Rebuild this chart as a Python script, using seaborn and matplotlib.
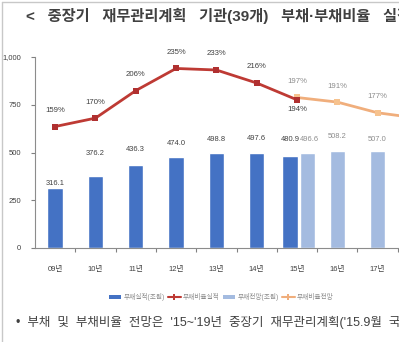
import numpy as np
import pandas as pd
import matplotlib
matplotlib.use("Agg")
import matplotlib.pyplot as plt
import seaborn as sns
from matplotlib.patches import Patch
from matplotlib.lines import Line2D

# ---------------- data ----------------
years = ["09년", "10년", "11년", "12년", "13년", "14년", "15년", "16년", "17년"]
debt_actual = [316.1, 376.2, 436.3, 474.0, 498.8, 497.6, 480.9]      # 09~15
debt_plan = [496.6, 508.2, 507.0]                                     # 15~17
ratio_actual = [159, 170, 206, 235, 233, 216, 194]                    # 09~15 (%)
ratio_plan = [197, 191, 177, 170]                                     # 15~18 (%), 18 runs off the edge
yticks = [0, 250, 500, 750, 1000]
ytick_labels = ["0", "250", "500", "750", "1,000"]
title = "<   중장기   재무관리계획   기관(39개)   부채·부채비율   실적   및   전망   >"
note = "•  부채  및  부채비율  전망은  '15~'19년  중장기  재무관리계획('15.9월  국회  제출)"
legend_labels = ["부채실적(조원)", "부채비율실적", "부채전망(조원)", "부채비율전망"]

# ---------------- style ----------------
sns.set_theme(style="white")
plt.rcParams["font.family"] = ["Liberation Sans", "Noto Sans CJK KR", "DejaVu Sans"]

C_DARK = "#4472C4"
C_LIGHT = "#A4BBE0"
C_RED = "#BE3A34"
C_ORANGE = "#F0AE7C"
C_TXT = "#404040"
C_TXT_L = "#8C8C8C"

W, H = 399, 342
fig = plt.figure(figsize=(W / 100, H / 100), dpi=100)
ax = fig.add_axes([35 / W, 94 / H, 403 / W, 191 / H])

n_a = len(debt_actual)
x_act = np.arange(n_a, dtype=float)
x_plan = np.arange(n_a - 1, n_a - 1 + len(debt_plan), dtype=float)
bar_w = 0.38
# the overlapping year (15년) shows both bars side by side
x_act_bar = x_act.copy()
x_act_bar[-1] -= 0.17
x_plan_bar = x_plan.copy()
x_plan_bar[0] += 0.26

ax.bar(x_act_bar, debt_actual, width=bar_w, color=C_DARK, zorder=2)
ax.bar(x_plan_bar, debt_plan, width=bar_w, color=C_LIGHT, zorder=2)

ax.set_xlim(-0.5, 9.5)
ax.set_ylim(0, 1000)
ax.set_yticks(yticks)
ax.set_yticklabels(ytick_labels)
ax.set_xticks(np.arange(len(years)))
ax.set_xticklabels(years)
ax.set_xticks(np.arange(len(years) + 1) + 0.5, minor=True)
ax.tick_params(axis="x", which="major", length=0, pad=13, labelsize=5.5, labelcolor=C_TXT)
ax.tick_params(axis="x", which="minor", length=3, width=0.8, color="#808080", direction="out", bottom=True)
ax.tick_params(axis="y", length=3, width=0.8, color="#808080", direction="out", left=True,
               pad=7, labelsize=5.5, labelcolor=C_TXT)
for s in ["top", "right"]:
    ax.spines[s].set_visible(False)
for s in ["left", "bottom"]:
    ax.spines[s].set_color("#8C8C8C")
    ax.spines[s].set_linewidth(0.8)
ax.grid(False)

# bar value labels (offsets in px above bar top, as placed in the original)
off_act = [4, 23, 15, 13.5, 13.7, 14, 17]
off_plan = [14, 14, 12]
for x, v, o in zip(x_act_bar, debt_actual, off_act):
    ax.annotate(f"{v:.1f}", (x, v), xytext=(0, o * 0.72), textcoords="offset points",
                ha="center", va="center", fontsize=5.4, color=C_TXT)
for i, (x, v, o) in enumerate(zip(x_plan_bar, debt_plan, off_plan)):
    ax.annotate(f"{v:.1f}", (x, v), xytext=(1.5 if i == 0 else 0, o * 0.72),
                textcoords="offset points", ha="center", va="center", fontsize=5.4, color=C_TXT_L)

# ratio lines on secondary axis
ax2 = ax.twinx()
ax2.set_ylim(0, 250)
ax2.set_axis_off()
x_rp = np.arange(n_a - 1, n_a - 1 + len(ratio_plan), dtype=float)
sns.lineplot(x=x_rp, y=ratio_plan, ax=ax2, color=C_ORANGE, lw=2, marker="s", markersize=4,
             markeredgewidth=0, markerfacecolor="#F6C28E", zorder=3)
sns.lineplot(x=x_act, y=ratio_actual, ax=ax2, color=C_RED, lw=2, marker="s", markersize=4.5,
             markeredgewidth=0, markerfacecolor="#B03030", zorder=4)

for i, (x, v) in enumerate(zip(x_act, ratio_actual)):
    dy = -10 if i == n_a - 1 else 16
    ax2.annotate(f"{v}%", (x, v), xytext=(0, dy * 0.72), textcoords="offset points",
                 ha="center", va="center", fontsize=5.6, color=C_TXT)
for x, v in zip(x_rp, ratio_plan):
    if x < len(years):
        ax2.annotate(f"{v}%", (x, v), xytext=(0, 16 * 0.72), textcoords="offset points",
                     ha="center", va="center", fontsize=5.6, color=C_TXT_L)

# legend
handles = [
    Patch(facecolor=C_DARK, edgecolor="none"),
    Line2D([], [], color=C_RED, lw=1.5, marker="P", markersize=4, markeredgewidth=0),
    Patch(facecolor=C_LIGHT, edgecolor="none"),
    Line2D([], [], color=C_ORANGE, lw=1.5, marker="P", markersize=4, markeredgewidth=0),
]
fig.legend(handles, legend_labels, loc="center left", bbox_to_anchor=(106 / W, 1 - 297 / H),
           ncol=4, frameon=False, fontsize=4.8, handlelength=1.9, handleheight=0.6,
           columnspacing=0.5, handletextpad=0.3, labelcolor=C_TXT_L, borderaxespad=0)

# title and note
fig.text(26 / W, 1 - 16 / H, title, fontsize=11.0, fontweight="bold", color="#404040",
         ha="left", va="center")
fig.text(16 / W, 1 - 322 / H, note, fontsize=9.0, color="#404040", ha="left", va="center")

# thin frame (left and top, the rest is cut off)
fig.add_artist(Line2D([2 / W, 2 / W], [0, 1 - 1.5 / H], transform=fig.transFigure,
                      color="#C8C8C8", lw=1))
fig.add_artist(Line2D([2 / W, 1], [1 - 1.5 / H, 1 - 1.5 / H], transform=fig.transFigure,
                      color="#C8C8C8", lw=1))

fig.savefig("out.png", dpi=100)
